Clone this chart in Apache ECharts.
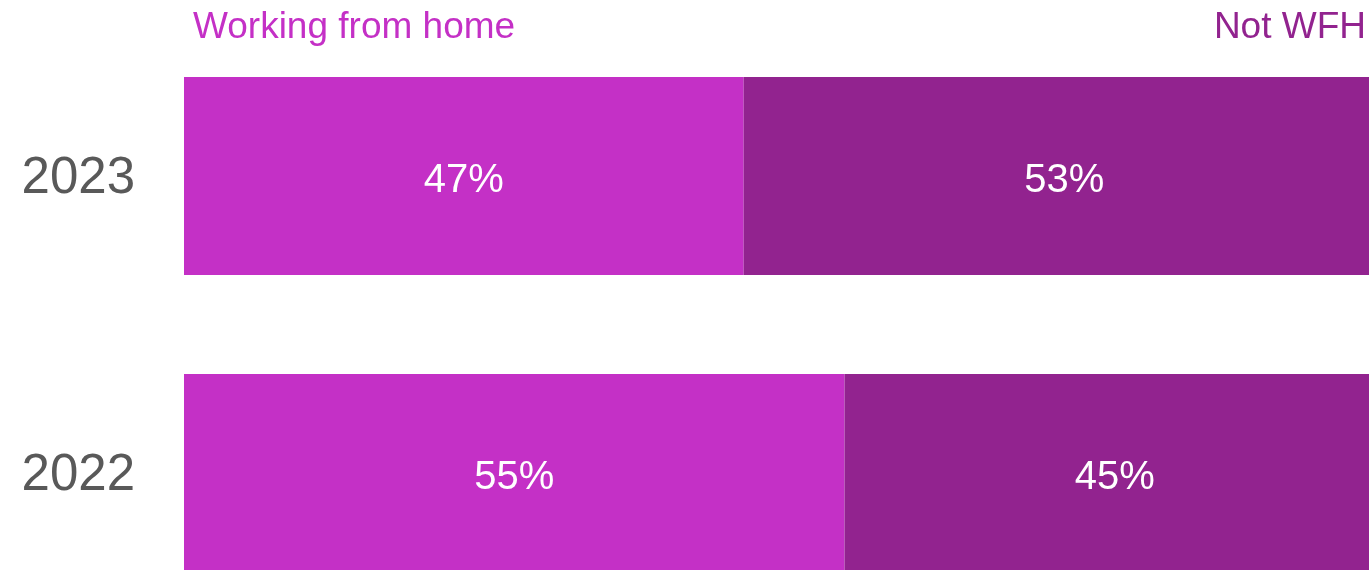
<!DOCTYPE html>
<html>
<head>
<meta charset="utf-8">
<script src="https://cdn.jsdelivr.net/npm/echarts@6/dist/echarts.min.js"></script>
<style>
html,body{margin:0;padding:0;background:#fff;width:1369px;height:570px;overflow:hidden;}
#chart{width:1400px;height:660px;}
</style>
</head>
<body>
<div id="chart"></div>
<script>
const categories = ['2023', '2022'];
const seriesNames = ['Working from home', 'Not WFH'];
const wfhValues = [46.6, 55.0];
const notWfhValues = [53.4, 45.0];

const FONT = '"Liberation Sans", Arial, sans-serif';
const chart = echarts.init(document.getElementById('chart'), null, {renderer: 'canvas'});

const labelStyle = {
  show: true,
  position: 'inside',
  offset: [0, 5],
  color: '#ffffff',
  fontSize: 40,
  fontFamily: FONT,
  formatter: p => Math.round(p.value) + '%'
};

chart.setOption({
  animation: false,
  backgroundColor: '#ffffff',
  grid: {left: 184, top: 27.5, width: 1201, height: 594, containLabel: false},
  xAxis: {
    type: 'value', min: 0, max: 100, show: false
  },
  yAxis: {
    type: 'category',
    data: categories,
    inverse: true,
    axisLine: {show: false},
    axisTick: {show: false},
    splitLine: {show: false},
    axisLabel: {color: '#595959', fontSize: 51, fontFamily: FONT, margin: 49, verticalAlign: 'top', lineHeight: 6}
  },
  graphic: [
    {type: 'text', x: 193, y: 28, style: {text: seriesNames[0], fill: '#C430C6', fontSize: 37, fontFamily: FONT, verticalAlign: 'middle', align: 'left'}},
    {type: 'text', x: 1366, y: 28, style: {text: seriesNames[1], fill: '#92238F', fontSize: 37, fontFamily: FONT, verticalAlign: 'middle', align: 'right'}}
  ],
  series: [
    {name: seriesNames[0], type: 'bar', stack: 'total', barWidth: 198, data: wfhValues,
     itemStyle: {color: '#C430C6'}, label: labelStyle},
    {name: seriesNames[1], type: 'bar', stack: 'total', barWidth: 198, data: notWfhValues,
     itemStyle: {color: '#92238F'}, label: labelStyle}
  ]
});
</script>
</body>
</html>
